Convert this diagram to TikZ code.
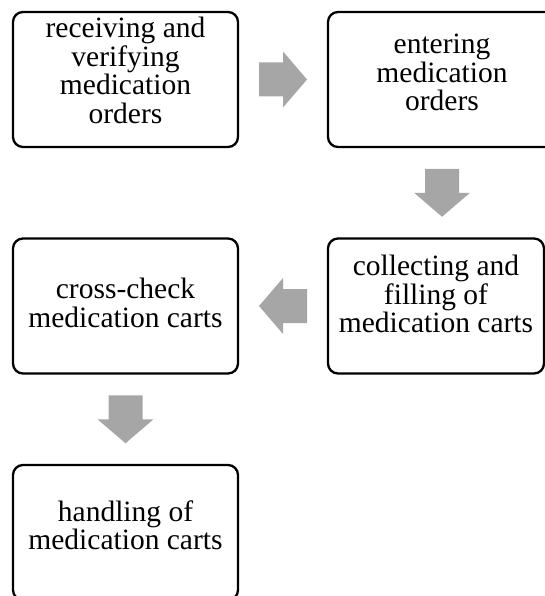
\documentclass[tikz,border=0pt]{standalone}
\usepackage{fontspec}
\setmainfont{Liberation Serif}
\usetikzlibrary{calc}
\begin{document}
\begin{tikzpicture}[x=1pt,y=-1pt,
  stepbox/.style={draw=black, line width=2.3pt, rounded corners=10pt,
    fill=white, inner sep=0pt, minimum height=135pt},
  boxtext/.style={align=center, inner sep=0pt,
    font=\fontsize{29.5}{28.5}\selectfont},
  flow/.style={fill=flowgray, draw=none},
  blockarrow/.pic={
    \fill[flow] (-24,-17) -- (0,-17) -- (0,-28) -- (24,0) -- (0,28)
      -- (0,17) -- (-24,17) -- cycle;
  }
]
\definecolor{flowgray}{HTML}{A6A6A6}
\useasboundingbox (0,0) rectangle (545,596);
\begin{scope}
\clip (0,0) rectangle (545,596);

% step boxes
\node[stepbox, minimum width=225pt] (b1) at (125.5,79.5) {};
\node[stepbox, minimum width=228pt] (b2) at (442,79.5) {};
\node[stepbox, minimum width=216pt] (b3) at (436,306) {};
\node[stepbox, minimum width=225pt] (b4) at (125.5,306) {};
\node[stepbox, minimum width=225pt] (b5) at (125.5,532.5) {};

% box captions
\node[boxtext, yshift=9pt]  (t1) at (b1) {receiving and\\verifying\\medication\\orders};
\node[boxtext, yshift=7pt]  (t2) at (b2) {entering\\medication\\orders};
\node[boxtext, yshift=12pt] (t3) at (b3) {collecting and\\filling of\\medication carts};
\node[boxtext, yshift=3pt]  (t4) at (b4) {cross-check\\medication carts};
\node[boxtext, yshift=7pt]  (t5) at (b5) {handling of\\medication carts};

% block arrows between the steps
\coordinate (a1) at ($(b1.east)!0.5!(b2.west)$);
\coordinate (a2) at ($(b2.south)!0.5!(b2.south |- b3.north)$);
\coordinate (a3) at ($(b4.east)!0.5!(b3.west)$);
\coordinate (a4) at ($(b4.south)!0.5!(b5.north)$);
\pic at (a1) {blockarrow};
\pic[rotate=-90] at (a2) {blockarrow};
\pic[rotate=180] at (a3) {blockarrow};
\pic[rotate=-90] at (a4) {blockarrow};
\end{scope}
\end{tikzpicture}
\end{document}
